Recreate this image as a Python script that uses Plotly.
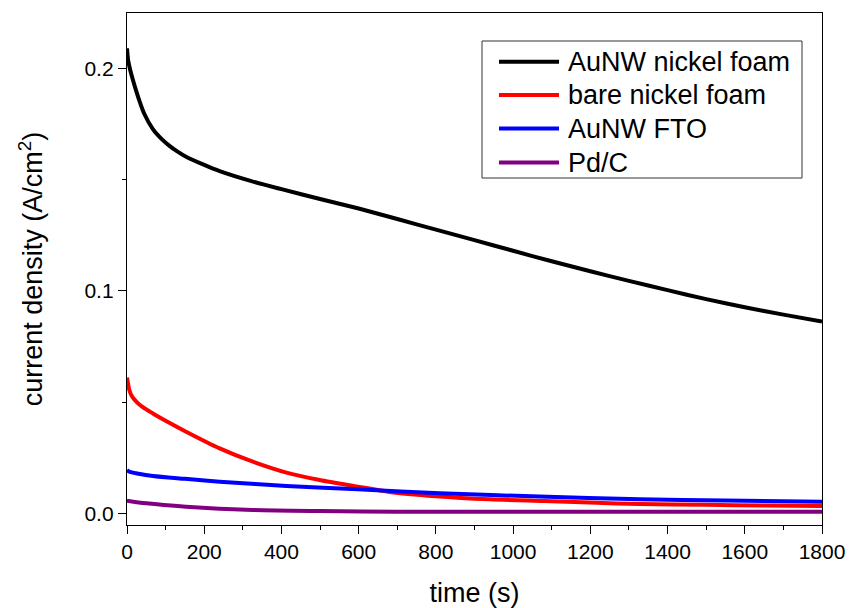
import plotly.graph_objects as go

# time (s) and current density (A/cm^2)
t_black = [0, 3, 8, 15, 25, 32, 45, 67, 90, 110, 130, 153, 200, 240, 320, 400, 500, 600, 700, 800, 900, 1000, 1100, 1200, 1300, 1400, 1500, 1600, 1700, 1800]
v_black = [0.209, 0.2036, 0.1995, 0.1950, 0.1892, 0.1855, 0.1795, 0.1727, 0.1682, 0.1652, 0.1627, 0.1603, 0.1566, 0.1538, 0.1494, 0.1457, 0.1413, 0.137, 0.1323, 0.1275, 0.1228, 0.118, 0.1133, 0.1088, 0.1045, 0.1003, 0.0963, 0.0926, 0.0893, 0.0862]

t_red = [0, 2, 6, 12, 24, 40, 67, 100, 153, 240, 326, 413, 499, 598, 680, 800, 940, 1080, 1199, 1328, 1500, 1650, 1800]
v_red = [0.061, 0.059, 0.0554, 0.0528, 0.0502, 0.0478, 0.0449, 0.0416, 0.0367, 0.0292, 0.0232, 0.0183, 0.0150, 0.0120, 0.0096, 0.0077, 0.0063, 0.0055, 0.0048, 0.0042, 0.0038, 0.0035, 0.0033]

t_blue = [0, 5, 30, 67, 150, 240, 413, 598, 810, 1069, 1328, 1550, 1800]
v_blue = [0.0195, 0.0188, 0.0178, 0.0168, 0.0155, 0.0142, 0.0123, 0.0108, 0.0090, 0.0075, 0.0063, 0.0058, 0.0052]

t_purple = [0, 50, 153, 326, 500, 700, 1000, 1400, 1800]
v_purple = [0.0057, 0.0045, 0.0030, 0.0015, 0.0010, 0.0007, 0.0007, 0.0007, 0.0007]

names = ["AuNW nickel foam", "bare nickel foam", "AuNW FTO", "Pd/C"]
colors = ["#000000", "#ff0000", "#0000ff", "#800080"]
times = [t_black, t_red, t_blue, t_purple]
values = [v_black, v_red, v_blue, v_purple]

x_ticks = [0, 200, 400, 600, 800, 1000, 1200, 1400, 1600, 1800]
y_ticks = [0.0, 0.1, 0.2]

FONT = "Liberation Sans, Arial, sans-serif"
W, H = 849, 608
ML, MR, MT, MB = 127, 27, 13, 83
PW, PH = W - ML - MR, H - MT - MB


def px(xp):
    return (xp - ML) / PW


def py(yp):
    return (H - MB - yp) / PH


fig = go.Figure()
for name, t, v, c in zip(names, times, values, colors):
    fig.add_trace(go.Scatter(x=t, y=v, mode="lines", name=name, showlegend=False,
                             line=dict(color=c, width=4, shape="spline", smoothing=0.8)))

# legend drawn as a framed box with line samples and labels
shapes = [dict(type="rect", xref="paper", yref="paper",
               x0=px(482), x1=px(802), y0=py(178), y1=py(41),
               line=dict(color="#333333", width=1), fillcolor="white", layer="above")]
annotations = []
row_y = [61.7, 95.0, 128.5, 162.5]
for name, c, ry in zip(names, colors, row_y):
    shapes.append(dict(type="line", xref="paper", yref="paper",
                       x0=px(499), x1=px(559), y0=py(ry), y1=py(ry),
                       line=dict(color=c, width=4), layer="above"))
    annotations.append(dict(xref="paper", yref="paper", x=px(566), y=py(ry),
                            xanchor="left", yanchor="middle", showarrow=False,
                            text=name, font=dict(family=FONT, size=27, color="black")))

fig.update_layout(
    width=W, height=H,
    margin=dict(l=ML, r=MR, t=MT, b=MB),
    paper_bgcolor="white", plot_bgcolor="white",
    font=dict(family=FONT, color="black", size=21),
    showlegend=False,
    shapes=shapes, annotations=annotations,
)
fig.update_xaxes(
    range=[0, 1800], tickvals=x_ticks, automargin=False,
    ticks="outside", ticklen=8, tickwidth=1.3, tickcolor="black",
    minor=dict(dtick=100, ticks="outside", ticklen=4, tickwidth=1.3, tickcolor="black"),
    showline=True, linecolor="black", linewidth=1.3, mirror=True,
    showgrid=False, zeroline=False,
    tickfont=dict(size=21),
    title=dict(text="time (s)", font=dict(size=27), standoff=27),
)
fig.update_yaxes(
    range=[-0.00526, 0.2249], tickvals=y_ticks, tickformat=".1f", automargin=False,
    ticks="outside", ticklen=8, tickwidth=1.3, tickcolor="black",
    minor=dict(tickvals=[0.05, 0.15], ticks="outside", ticklen=4, tickwidth=1.3, tickcolor="black"),
    showline=True, linecolor="black", linewidth=1.3, mirror=True,
    showgrid=False, zeroline=False,
    tickfont=dict(size=21),
    title=dict(text="current density (A/cm<sup>2</sup>)", font=dict(size=27), standoff=33),
)

fig.write_html("out.html")
